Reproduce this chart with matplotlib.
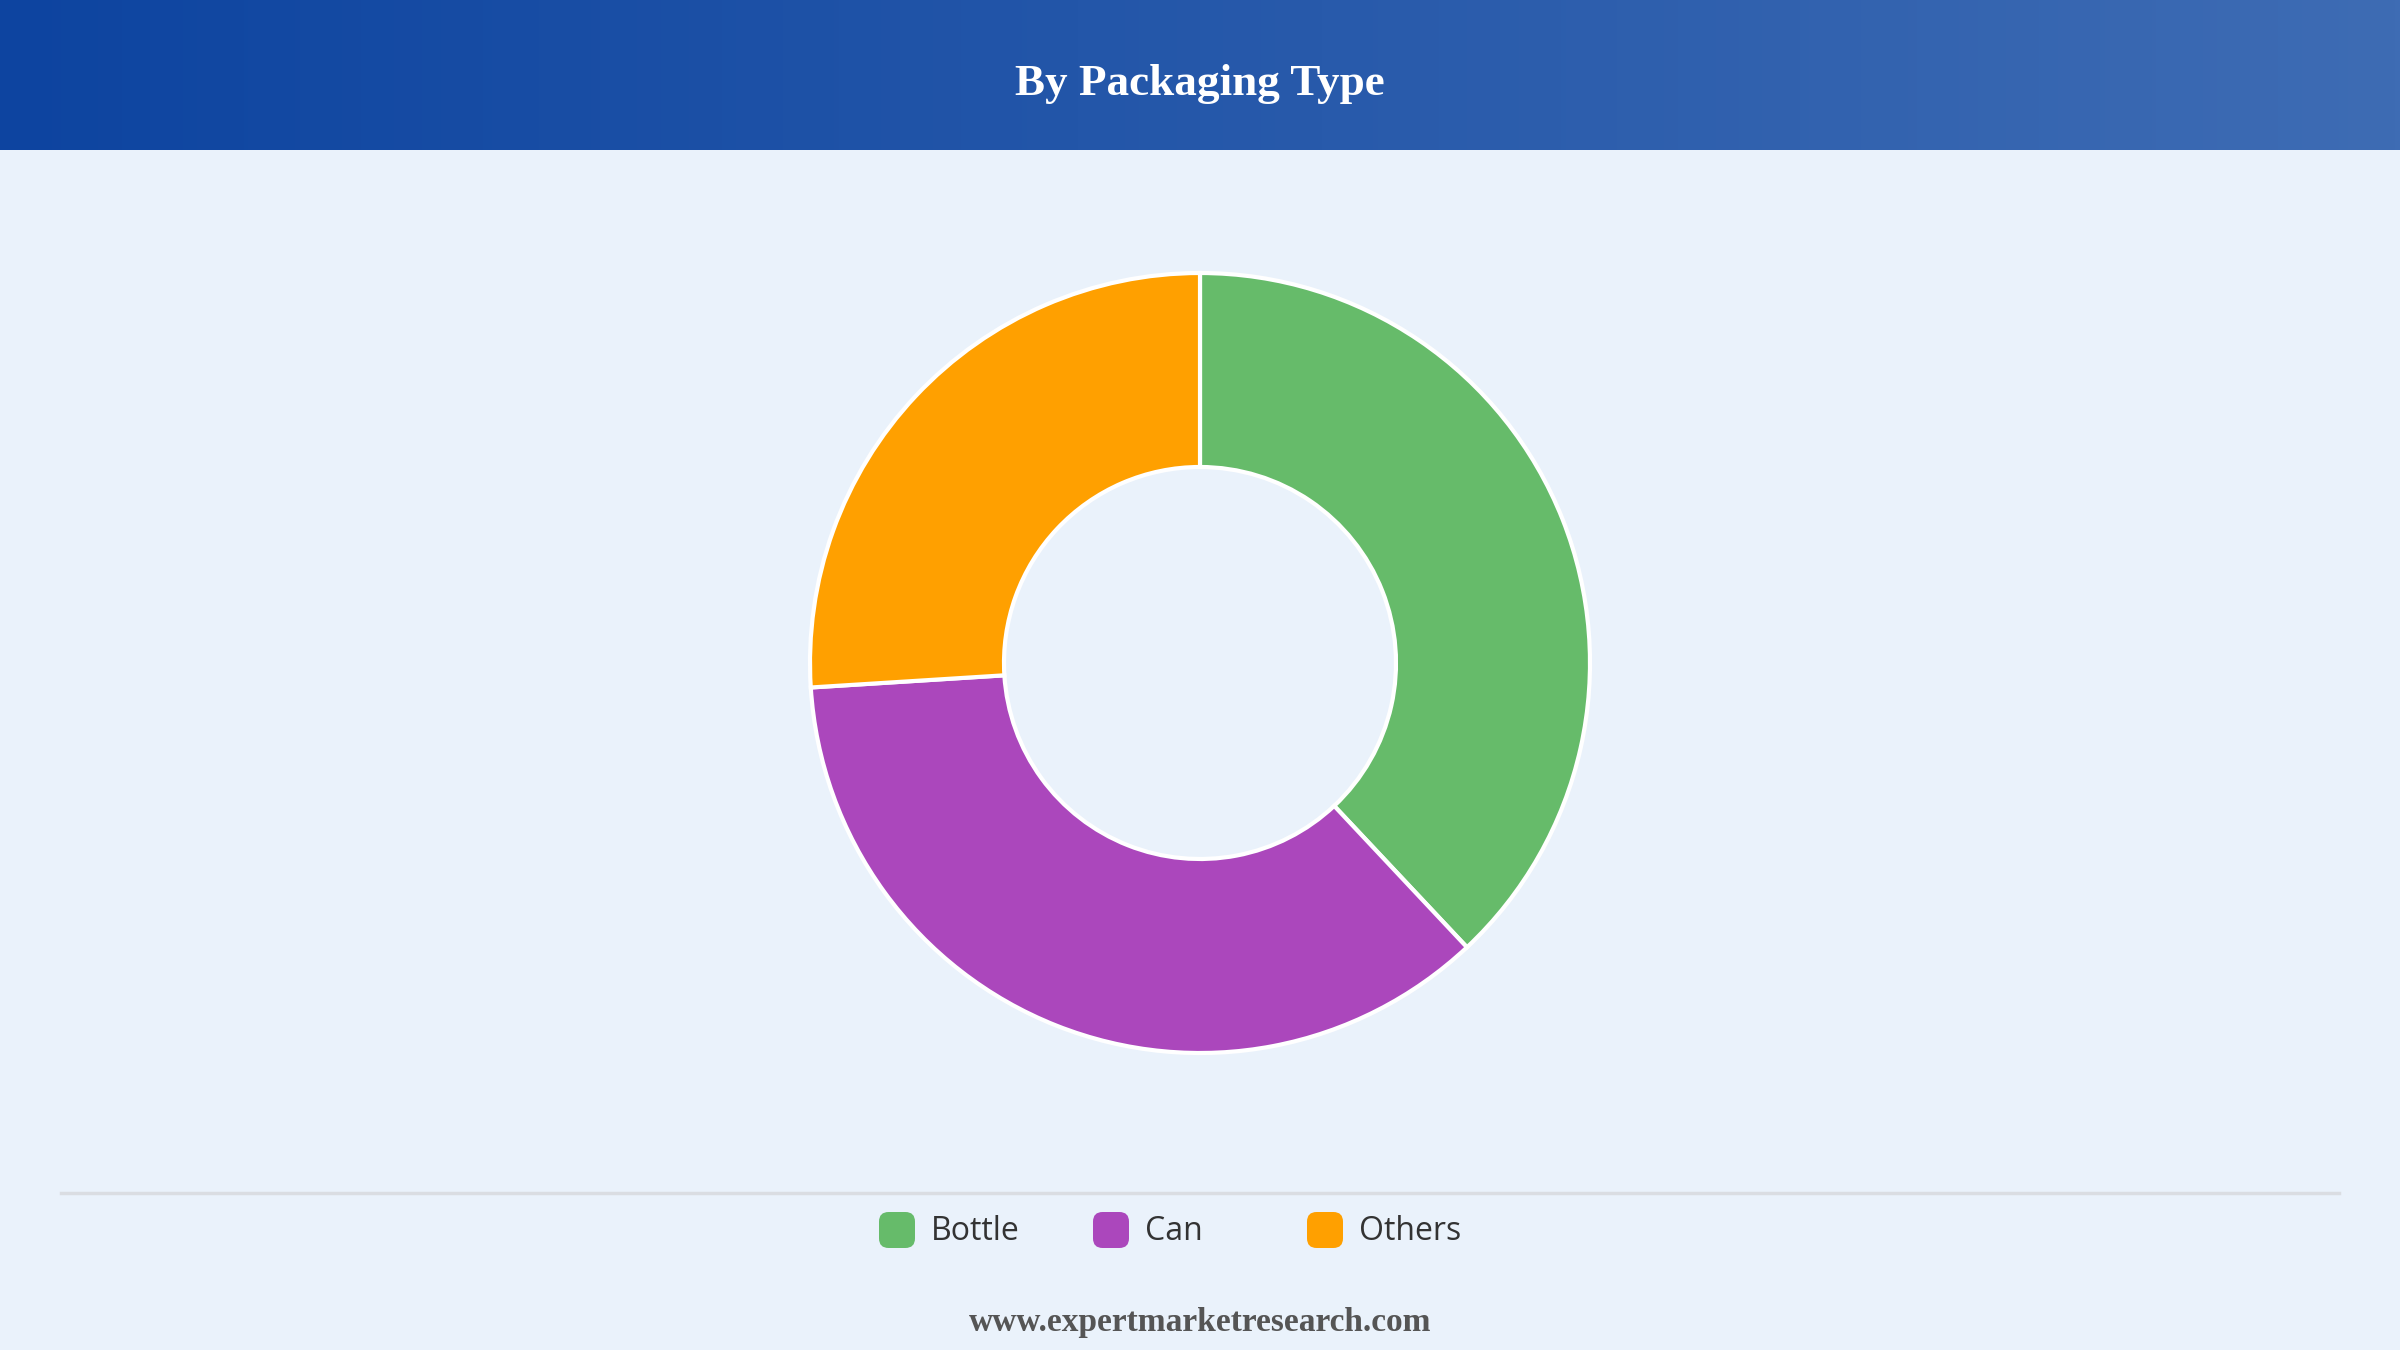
import matplotlib.pyplot as plt
import numpy as np
from matplotlib.patches import FancyBboxPatch
from matplotlib.lines import Line2D

categorias = ["Bottle", "Can", "Others"]
valores = [38, 36, 26]
cores = ["#66BB6A", "#AB47BC", "#FFA000"]
titulo = "By Packaging Type"
rodape = "www.expertmarketresearch.com"

W, H = 2400, 1350
fundo = "#EAF2FB"

fig = plt.figure(figsize=(24, 13.5), dpi=100)
fig.patch.set_facecolor(fundo)

# cabeçalho com gradiente
cab_h = 150
ax_cab = fig.add_axes([0, 1 - cab_h / H, 1, cab_h / H])
esq = np.array([13, 68, 160]) / 255
dir_ = np.array([62, 108, 180]) / 255
t = np.linspace(0, 1, 512)[None, :, None]
grad = esq * (1 - t) + dir_ * t
ax_cab.imshow(grad, aspect="auto", extent=[0, 1, 0, 1])
ax_cab.set_axis_off()
ax_cab.text(0.5, 0.44, titulo, ha="center", va="center", color="white",
            fontsize=32.5, fontweight="bold", family="Liberation Serif")

# donut
cx, cy, r_ext, r_int = 1200, 663, 390, 196
ax = fig.add_axes([(cx - r_ext) / W, 1 - (cy + r_ext) / H, 2 * r_ext / W, 2 * r_ext / H])
ax.pie(valores, colors=cores, startangle=90, counterclock=False, radius=1,
       wedgeprops=dict(width=(r_ext - r_int) / r_ext, edgecolor="white", linewidth=3))
ax.set_aspect("equal")
ax.set_xlim(-1.0, 1.0)
ax.set_ylim(-1.0, 1.0)
ax.set_axis_off()

# linha separadora
y_lin = 1 - 1193 / H
fig.add_artist(Line2D([61 / W, 2339 / W], [y_lin, y_lin], color="#DADDE2", linewidth=2.5))

# legenda
y_leg = 1230
x0 = 879
passo = 214
lado = 36
for i, (cat, cor) in enumerate(zip(categorias, cores)):
    xq = x0 + i * passo
    fig.add_artist(FancyBboxPatch(((xq) / W, 1 - (y_leg + lado / 2) / H), lado / W, lado / H,
                                  boxstyle="round,pad=0,rounding_size=0.004",
                                  transform=fig.transFigure, facecolor=cor, edgecolor="none",
                                  mutation_aspect=W / H))
    fig.text((xq + lado + 16) / W, 1 - (y_leg + 2) / H, cat, ha="left", va="center",
             fontsize=23, fontweight=500, color="#333333", family="Open Sans")

fig.text(0.5, 1 - 1323 / H, rodape, ha="center", va="center", fontsize=24,
         fontweight="bold", color="#555555", family="Liberation Serif")

plt.savefig("out.png", dpi=100, facecolor=fundo)
